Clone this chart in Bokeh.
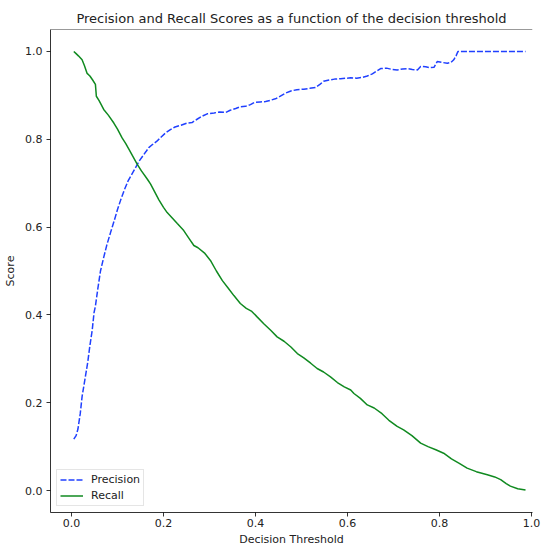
from bokeh.plotting import figure
from bokeh.models import FixedTicker, Span, Legend, LegendItem, Range1d, CustomJSTickFormatter
from bokeh.embed import file_html
from bokeh.resources import INLINE

# Precision curve (threshold, score)
precision_threshold = [0.005, 0.010, 0.014, 0.019, 0.023, 0.029, 0.035, 0.040, 0.045, 0.049,
                       0.052, 0.057, 0.063, 0.070, 0.077, 0.085, 0.093, 0.100, 0.107, 0.115,
                       0.123, 0.131, 0.139, 0.147, 0.155, 0.162, 0.168, 0.176, 0.185, 0.195,
                       0.205, 0.215, 0.225, 0.238, 0.251, 0.262, 0.272, 0.283, 0.295, 0.310,
                       0.322, 0.335, 0.345, 0.357, 0.367, 0.378, 0.389, 0.398, 0.410, 0.422,
                       0.433, 0.445, 0.455, 0.465, 0.477, 0.490, 0.505, 0.518, 0.530, 0.540,
                       0.548, 0.560, 0.572, 0.585, 0.597, 0.607, 0.620, 0.632, 0.643, 0.654,
                       0.663, 0.672, 0.685, 0.697, 0.708, 0.720, 0.730, 0.741, 0.752, 0.759,
                       0.770, 0.779, 0.788, 0.795, 0.806, 0.817, 0.825, 0.831, 0.836, 0.840,
                       0.900, 0.950, 0.987]
precision_score = [0.117, 0.125, 0.140, 0.175, 0.214, 0.252, 0.290, 0.330, 0.365, 0.405,
                   0.420, 0.458, 0.500, 0.531, 0.560, 0.588, 0.615, 0.640, 0.662, 0.685,
                   0.705, 0.720, 0.735, 0.750, 0.762, 0.772, 0.781, 0.788, 0.795, 0.805,
                   0.815, 0.822, 0.828, 0.832, 0.837, 0.838, 0.845, 0.852, 0.858, 0.860,
                   0.862, 0.861, 0.866, 0.870, 0.874, 0.875, 0.879, 0.884, 0.885, 0.886,
                   0.889, 0.893, 0.899, 0.905, 0.910, 0.913, 0.914, 0.916, 0.918, 0.925,
                   0.932, 0.935, 0.937, 0.938, 0.939, 0.940, 0.939, 0.941, 0.944, 0.949,
                   0.955, 0.961, 0.962, 0.959, 0.958, 0.960, 0.961, 0.959, 0.958, 0.966,
                   0.965, 0.963, 0.964, 0.977, 0.975, 0.973, 0.975, 0.981, 0.990, 1.000,
                   1.000, 1.000, 1.000]

# Recall curve (threshold, score)
recall_threshold = [0.005, 0.010, 0.015, 0.023, 0.028, 0.034, 0.040, 0.046, 0.052, 0.054,
                    0.060, 0.070, 0.080, 0.092, 0.100, 0.110, 0.118, 0.125, 0.134, 0.143,
                    0.152, 0.165, 0.172, 0.180, 0.190, 0.200, 0.208, 0.218, 0.230, 0.244,
                    0.255, 0.266, 0.275, 0.290, 0.302, 0.315, 0.328, 0.340, 0.353, 0.367,
                    0.380, 0.392, 0.404, 0.418, 0.433, 0.447, 0.462, 0.477, 0.491, 0.505,
                    0.520, 0.534, 0.548, 0.563, 0.578, 0.593, 0.607, 0.614, 0.628, 0.643,
                    0.658, 0.675, 0.690, 0.708, 0.722, 0.740, 0.759, 0.775, 0.792, 0.809,
                    0.826, 0.843, 0.860, 0.880, 0.904, 0.920, 0.933, 0.945, 0.954, 0.970,
                    0.987]
recall_score = [1.000, 0.995, 0.990, 0.981, 0.968, 0.950, 0.944, 0.935, 0.925, 0.898,
                0.888, 0.868, 0.855, 0.837, 0.823, 0.803, 0.790, 0.777, 0.760, 0.743,
                0.728, 0.709, 0.698, 0.682, 0.662, 0.645, 0.633, 0.622, 0.608, 0.592,
                0.575, 0.558, 0.553, 0.540, 0.524, 0.500, 0.478, 0.462, 0.444, 0.426,
                0.415, 0.408, 0.395, 0.380, 0.365, 0.350, 0.340, 0.327, 0.312, 0.302,
                0.290, 0.278, 0.270, 0.259, 0.246, 0.236, 0.229, 0.221, 0.210, 0.195,
                0.188, 0.175, 0.160, 0.146, 0.138, 0.125, 0.108, 0.100, 0.093, 0.085,
                0.072, 0.062, 0.051, 0.043, 0.036, 0.031, 0.025, 0.016, 0.010, 0.004,
                0.001]

x_ticks = [0.0, 0.2, 0.4, 0.6, 0.8, 1.0]
y_ticks = [0.0, 0.2, 0.4, 0.6, 0.8, 1.0]

FONT = "DejaVu Sans"

# frame: x 50..532 px, y 29..513 px
p = figure(width=541, height=548, output_backend="svg", toolbar_location=None,
           x_range=Range1d(-0.04565, 1.00217), y_range=Range1d(-0.05, 1.05),
           title="Precision and Recall Scores as a function of the decision threshold",
           min_border_left=50, min_border_right=9, min_border_top=29, min_border_bottom=35)

p.title.text_font = FONT
p.title.text_font_size = "13px"
p.title.text_font_style = "normal"
p.title.text_color = "#222222"
p.title.align = "center"
p.title.standoff = 7

p.grid.visible = False
p.outline_line_color = None
p.background_fill_color = "white"
p.border_fill_color = "white"

for ax, ticks in ((p.xaxis[0], x_ticks), (p.yaxis[0], y_ticks)):
    ax.ticker = FixedTicker(ticks=ticks)
    ax.formatter = CustomJSTickFormatter(code="return tick.toFixed(1);")
    ax.axis_line_color = "black"
    ax.axis_line_width = 0.8
    ax.major_tick_line_color = "black"
    ax.major_tick_line_width = 0.8
    ax.major_tick_out = 4
    ax.major_tick_in = 0
    ax.minor_tick_line_color = None
    ax.major_label_text_font = FONT
    ax.major_label_text_font_size = "11px"
    ax.major_label_text_color = "#222222"
    ax.axis_label_text_font = FONT
    ax.axis_label_text_font_size = "11px"
    ax.axis_label_text_font_style = "normal"
    ax.axis_label_text_color = "#222222"

p.xaxis.major_label_standoff = 2
p.xaxis.axis_label_standoff = 3
p.yaxis.major_label_standoff = 4
p.yaxis.axis_label_standoff = 5

p.xaxis.axis_label = "Decision Threshold"
p.yaxis.axis_label = "Score"

top_spine = Span(location=1.05, dimension="width", line_color="black", line_width=0.8)
p.add_layout(top_spine)

r_prec = p.line(precision_threshold, precision_score, line_color="#2040ff",
                line_width=1.5, line_dash="6 2")
r_rec = p.line(recall_threshold, recall_score, line_color="#108a20", line_width=1.5)

legend = Legend(items=[LegendItem(label="Precision", renderers=[r_prec]),
                       LegendItem(label="Recall", renderers=[r_rec])],
                location="bottom_left")
legend.label_text_font = FONT
legend.label_text_font_size = "11px"
legend.label_text_color = "#222222"
legend.glyph_width = 23
legend.glyph_height = 13
legend.label_height = 13
legend.label_standoff = 8
legend.spacing = 3
legend.padding = 3
legend.margin = 6
legend.border_line_color = "#cccccc"
legend.border_line_width = 1
legend.background_fill_alpha = 0.8
p.add_layout(legend)

open("out.html", "w").write(file_html(p, INLINE))
